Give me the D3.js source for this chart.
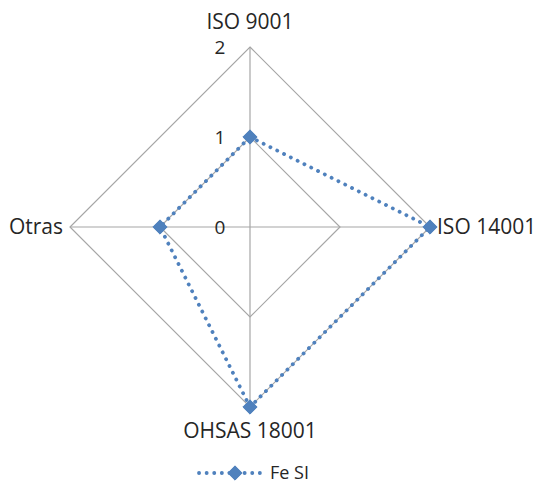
<!DOCTYPE html>
<html>
<head>
<meta charset="utf-8">
<script src="https://cdn.jsdelivr.net/npm/d3@7/dist/d3.min.js"></script>
<style>
  html, body { margin: 0; padding: 0; background: #fff; }
  svg { display: block; font-family: "Open Sans", "Liberation Sans", sans-serif; }
</style>
</head>
<body>
<svg id="chart" width="541" height="485"></svg>
<script>
// Radar chart: certifications held (series "Fe SI")
const categories = ["ISO 9001", "ISO 14001", "OHSAS 18001", "Otras"];
const seriesName = "Fe SI";
const seriesValues = [1, 2, 2, 1];
const tickValues = [0, 1, 2];

const cx = 250, cy = 227, radius = 180;
const color = "#4f81bd";
const gridColor = "#a6a6a6";
const textColor = "#262626";

const svg = d3.select("#chart");

const r = d3.scaleLinear().domain([0, d3.max(tickValues)]).range([0, radius]);
const angle = d3.scalePoint().domain(categories)
  .range([0, 2 * Math.PI * (categories.length - 1) / categories.length]);

const pt = (cat, v) => {
  const a = angle(cat);
  return [cx + r(v) * Math.sin(a), cy - r(v) * Math.cos(a)];
};

const g = svg.append("g");

// grid polygons
tickValues.filter(t => t > 0).forEach(t => {
  g.append("path")
    .attr("d", d3.line()(categories.map(c => pt(c, t))) + "Z")
    .attr("fill", "none")
    .attr("stroke", gridColor)
    .attr("stroke-width", 1.2);
});

// spokes
categories.forEach(c => {
  const [x, y] = pt(c, d3.max(tickValues));
  g.append("line")
    .attr("x1", cx).attr("y1", cy).attr("x2", x).attr("y2", y)
    .attr("stroke", gridColor).attr("stroke-width", 1.2);
});

// tick labels along the first spoke
tickValues.forEach(t => {
  const [x, y] = pt(categories[0], t);
  g.append("text")
    .attr("x", x - 30).attr("y", y + 7)
    .attr("text-anchor", "middle")
    .attr("font-size", 19)
    .attr("fill", textColor)
    .text(t);
});

// category labels
const labelPos = {
  "ISO 9001": { dx: 0, dy: -18, anchor: "middle" },
  "ISO 14001": { dx: 7, dy: 7, anchor: "start" },
  "OHSAS 18001": { dx: 0, dy: 31, anchor: "middle" },
  "Otras": { dx: -7, dy: 7, anchor: "end" }
};
categories.forEach(c => {
  const [x, y] = pt(c, d3.max(tickValues));
  const p = labelPos[c];
  g.append("text")
    .attr("x", x + p.dx).attr("y", y + p.dy)
    .attr("text-anchor", p.anchor)
    .attr("font-size", 21)
    .attr("fill", textColor)
    .text(c);
});

// series line
const pts = categories.map((c, i) => pt(c, seriesValues[i]));
g.append("path")
  .attr("d", d3.line()(pts) + "Z")
  .attr("fill", "none")
  .attr("stroke", color)
  .attr("stroke-width", 3.8)
  .attr("stroke-linecap", "round")
  .attr("stroke-dasharray", "0.1 7.5");

const diamond = d3.symbol().type(d3.symbolDiamond2).size(130);
g.selectAll(".marker").data(pts).join("path")
  .attr("class", "marker")
  .attr("transform", d => `translate(${d[0]},${d[1]})`)
  .attr("d", diamond)
  .attr("fill", color)
  .attr("stroke", color)
  .attr("stroke-width", 1);

// legend
const lg = svg.append("g").attr("transform", "translate(0,473)");
lg.append("line")
  .attr("x1", 199).attr("x2", 260).attr("y1", 0).attr("y2", 0)
  .attr("stroke", color).attr("stroke-width", 3.8)
  .attr("stroke-linecap", "round").attr("stroke-dasharray", "0.1 7.5");
lg.append("path")
  .attr("transform", "translate(235,0)")
  .attr("d", diamond)
  .attr("fill", color).attr("stroke", color);
lg.append("text")
  .attr("x", 270).attr("y", 6)
  .attr("font-size", 18)
  .attr("fill", textColor)
  .text(seriesName);
</script>
</body>
</html>
